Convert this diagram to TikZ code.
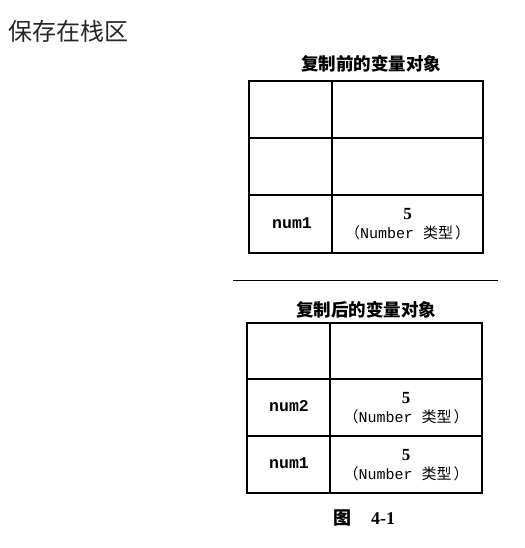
\documentclass[tikz,border=0pt]{standalone}
\usepackage{fontspec}
\setmainfont{Liberation Serif}
\setmonofont{Liberation Mono}
\newfontfamily\cjk{Noto Sans CJK SC}
\usetikzlibrary{calc,positioning}
\newcommand{\numtype}{{\cjk （}\texttt{Number}\hspace{9pt}{\cjk 类型\hspace{2pt}）}}

\begin{document}
\begin{tikzpicture}[x=1pt,y=-1pt,
        cell/.style={line width=1.1pt},
        captext/.style={font=\cjk\bfseries\fontsize{17.5}{19}\selectfont},
        vartext/.style={font=\ttfamily\bfseries\fontsize{16.5}{18}\selectfont},
        valtext/.style={align=center,font=\fontsize{15}{19}\selectfont}]
        \useasboundingbox (0,0) rectangle (524,548);

        \node[anchor=west,text=black!85,font=\cjk\fontsize{24}{26}\selectfont,inner sep=0pt] (title) at (8,31) {保存在栈区};

        % before copy
        \node[captext] (before) at (371,64) {复制前的变量对象};
        \draw[cell] (249,81) rectangle (483,253);
        \draw[cell] (332,81) -- (332,253);
        \draw[cell] (249,138) -- (483,138);
        \draw[cell] (249,195) -- (483,195);
        \node[vartext] (numA) at (292,223) {num1};
        \node[valtext] (valA) at (407.5,224.5) {{\bfseries\fontsize{17}{19}\selectfont 5}\\\numtype};

        \draw[line width=1pt] (233,280) -- (498,280);

        % after copy
        \node[captext] (after) at (366,310) {复制后的变量对象};
        \draw[cell] (247,323) rectangle (482,493);
        \draw[cell] (330,323) -- (330,493);
        \draw[cell] (247,379) -- (482,379);
        \draw[cell] (247,436) -- (482,436);
        \node[vartext] (numB) at (289,406.5) {num2};
        \node[valtext] (valB) at (406,408) {{\bfseries\fontsize{17}{19}\selectfont 5}\\\numtype};
        \node[vartext] (numC) at (289,463.5) {num1};
        \node[valtext] (valC) at (406,465) {{\bfseries\fontsize{17}{19}\selectfont 5}\\\numtype};

        \node[font=\bfseries\fontsize{18}{20}\selectfont] (fig) at (364,518) {{\cjk 图}\hspace{20pt}4-1};
    \end{tikzpicture}
\end{document}
